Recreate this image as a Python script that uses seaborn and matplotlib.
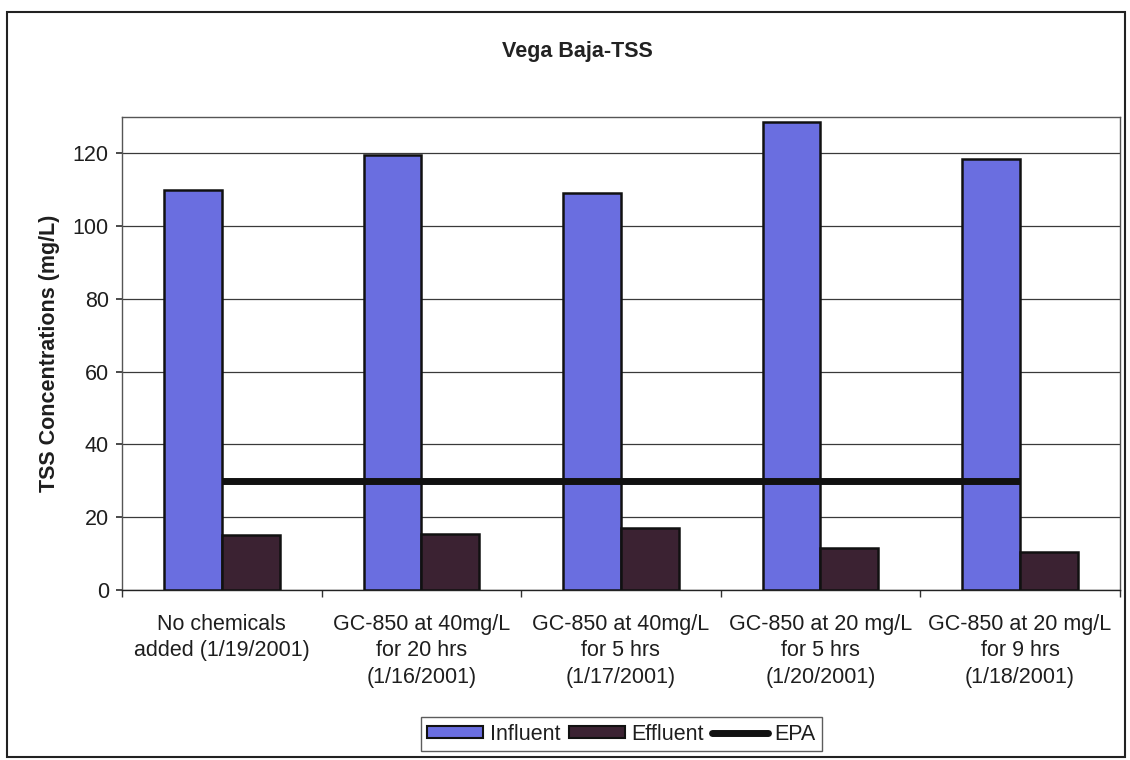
import numpy as np
import pandas as pd
import matplotlib
matplotlib.use("Agg")
import matplotlib.pyplot as plt
from matplotlib.patches import Rectangle, Patch
from matplotlib.lines import Line2D
import seaborn as sns

# ===== data =====
CATEGORIES = [
    "No chemicals\nadded (1/19/2001)",
    "GC-850 at 40mg/L\nfor 20 hrs\n(1/16/2001)",
    "GC-850 at 40mg/L\nfor 5 hrs\n(1/17/2001)",
    "GC-850 at 20 mg/L\nfor 5 hrs\n(1/20/2001)",
    "GC-850 at 20 mg/L\nfor 9 hrs\n(1/18/2001)",
]
influent = [110, 119.5, 109, 128.5, 118.5]
effluent = [15, 15.5, 17, 11.5, 10.5]
epa = [30, 30, 30, 30, 30]

# ===== colours =====
INF_COLOR = "#6a6ee0"
EFF_COLOR = "#3b2232"
TXT = "#1e1e1e"
FS = 15.5

sns.set_theme(style="white")
plt.rcParams["font.family"] = ["Liberation Sans", "DejaVu Sans"]

df = pd.DataFrame({
    "cat": CATEGORIES * 2,
    "val": influent + effluent,
    "series": ["Influent"] * len(CATEGORIES) + ["Effluent"] * len(CATEGORIES),
})

fig = plt.figure(figsize=(11.3, 7.6), dpi=100)
ax = fig.add_axes([0.108, 0.2237, 0.883, 0.6223])

sns.barplot(data=df, x="cat", y="val", hue="series", order=CATEGORIES,
            hue_order=["Influent", "Effluent"],
            palette=[INF_COLOR, EFF_COLOR], width=0.58, gap=0,
            edgecolor="#111111", linewidth=1.8, saturation=1,
            legend=False, ax=ax, zorder=3)

# EPA line through the category centres
x_pos = np.arange(len(CATEGORIES))
ax.plot(x_pos, epa, color="#111111", lw=5, zorder=5, solid_capstyle="butt")

ax.set_ylim(0, 130)
ax.set_xlim(-0.5, len(CATEGORIES) - 0.5)
ax.set_yticks(range(0, 121, 20))
ax.yaxis.grid(True, color="#3a3a3a", lw=0.9)
ax.set_axisbelow(True)
ax.set_xlabel("")
ax.set_ylabel("TSS Concentrations (mg/L)", fontsize=FS, fontweight="bold",
              color=TXT, labelpad=9)
ax.tick_params(axis="y", labelsize=FS, labelcolor=TXT, length=4.5,
               color="#333333", left=True, pad=5)
ax.tick_params(axis="x", which="major", labelsize=FS, labelcolor=TXT,
               length=0, pad=17)
ax.set_xticks(np.arange(-0.5, len(CATEGORIES), 1.0), minor=True)
ax.tick_params(axis="x", which="minor", length=5, color="#333333", bottom=True)
for lab in ax.get_xticklabels():
    lab.set_linespacing(1.35)
for s in ax.spines.values():
    s.set_color("#555555")
    s.set_linewidth(1.0)
ax.spines["bottom"].set_color("#222222")

fig.text(0.511, 0.932, "Vega Baja-TSS", ha="center", va="center",
         fontsize=FS, fontweight="bold", color="#222222")

# legend
handles = [
    Patch(facecolor=INF_COLOR, edgecolor="#111111", lw=1.5, label="Influent"),
    Patch(facecolor=EFF_COLOR, edgecolor="#111111", lw=1.5, label="Effluent"),
    Line2D([0], [0], color="#111111", lw=5, label="EPA"),
]
leg = fig.legend(handles=handles, loc="center", bbox_to_anchor=(0.55, 0.034),
                 ncol=3, frameon=True, fancybox=False, fontsize=FS,
                 handlelength=2.6, handleheight=0.5, handletextpad=0.3,
                 columnspacing=0.4, borderpad=0.3)
leg.get_frame().set_edgecolor("#333333")
leg.get_frame().set_linewidth(1.0)
for t in leg.get_texts():
    t.set_color(TXT)

# outer chart border
fig.patches.append(Rectangle((0.006, 0.004), 0.99, 0.98, transform=fig.transFigure,
                             fill=False, edgecolor="#222222", lw=1.5))

fig.savefig("out.png", dpi=100, facecolor="white")
